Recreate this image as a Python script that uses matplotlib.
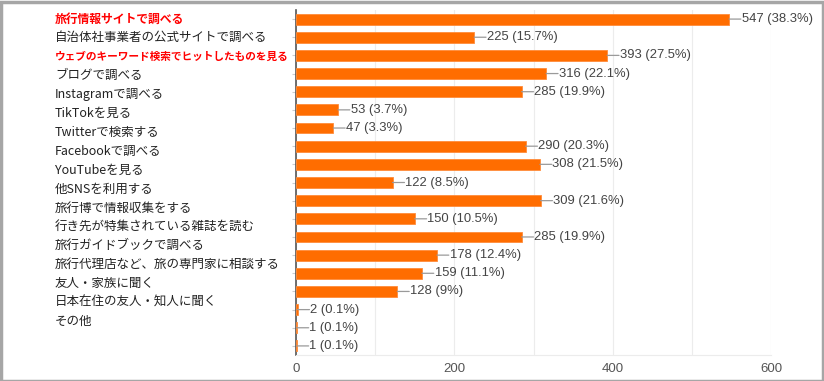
import matplotlib
matplotlib.use("Agg")
import matplotlib.pyplot as plt
from matplotlib.patches import Rectangle

plt.rcParams['font.family'] = ['Noto Sans CJK JP', 'DejaVu Sans']

categories = [
    "旅行情報サイトで調べる",
    "自治体社事業者の公式サイトで調べる",
    "ウェブのキーワード検索でヒットしたものを見る",
    "ブログで調べる",
    "Instagramで調べる",
    "TikTokを見る",
    "Twitterで検索する",
    "Facebookで調べる",
    "YouTubeを見る",
    "他SNSを利用する",
    "旅行博で情報収集をする",
    "行き先が特集されている雑誌を読む",
    "旅行ガイドブックで調べる",
    "旅行代理店など、旅の専門家に相談する",
    "友人・家族に聞く",
    "日本在住の友人・知人に聞く",
    "その他",
]
values = [547, 225, 393, 316, 285, 53, 47, 290, 308, 122, 309, 150, 285, 178, 159, 128, 2, 1, 1]
percents = ["38.3%", "15.7%", "27.5%", "22.1%", "19.9%", "3.7%", "3.3%", "20.3%", "21.5%",
            "8.5%", "21.6%", "10.5%", "19.9%", "12.4%", "11.1%", "9%", "0.1%", "0.1%", "0.1%"]
highlight = [0, 2]
xticks = [0, 200, 400, 600]

W, H = 824, 381
fig = plt.figure(figsize=(W / 100, H / 100), dpi=100)
fig.patch.set_facecolor("white")
ax = fig.add_axes([296 / W, 1 - 355 / H, (771 - 296) / W, (355 - 10) / H])

n = len(values)
ys = list(range(n))
ax.barh(ys, values, height=0.6, color="#ff6d00", edgecolor="#ff8c3a", linewidth=0.6, zorder=3)
ax.set_ylim(n - 0.5, -0.5)
ax.set_xlim(0, 600)

for y, v, p in zip(ys, values, percents):
    ax.annotate("", xy=(v, y), xytext=(v + 15, y),
                arrowprops=dict(arrowstyle="-", color="#9a9a9a", lw=0.9, shrinkA=0, shrinkB=0), zorder=4)
    ax.text(v + 16, y, f"{v} ({p})", va="center", ha="left", fontsize=9.4,
            color="#444444", family=["Liberation Sans", "DejaVu Sans"], zorder=5)

# gridlines every 100
ax.set_xticks(range(0, 601, 100), minor=True)
ax.grid(axis="x", which="minor", color="#ececec", lw=0.8, zorder=0)
ax.grid(axis="x", which="major", color="#ececec", lw=0.8, zorder=0)
ax.set_xticks(xticks)
ax.set_xticklabels([str(t) for t in xticks], fontsize=9.5, color="#555555",
                   family=["Liberation Sans", "DejaVu Sans"])
ax.tick_params(axis="x", length=0, pad=6)
ax.tick_params(axis="x", which="minor", length=0)
ax.set_yticks(ys)
ax.set_yticklabels([""] * n)
ax.tick_params(axis="y", length=3, color="#cccccc", direction="out")

for s in ["top", "right"]:
    ax.spines[s].set_visible(False)
ax.spines["bottom"].set_color("#ececec")
ax.spines["left"].set_color("#555555")
ax.spines["left"].set_linewidth(1.2)

# category labels on the left (own spacing, as in the reference image)
for i, c in enumerate(categories):
    ypix = 19 + i * 18.9
    yf = 1 - ypix / H
    if i in highlight:
        fs = 8.5 if len(c) < 15 else 7.7
        fig.text(55 / W, yf, c, ha="left", va="center", fontsize=fs,
                 color="#ff0000", fontweight="bold")
    else:
        fig.text(55 / W, yf, c, ha="left", va="center", fontsize=9,
                 color="#222222")

# outer border
fig.patches.append(Rectangle((0.5 / W, 0.5 / H), 1 - 2 / W, 1 - 2 / H, transform=fig.transFigure,
                             fill=False, edgecolor="#a6a6a6", lw=2.5))

fig.savefig("out.png", dpi=100)
